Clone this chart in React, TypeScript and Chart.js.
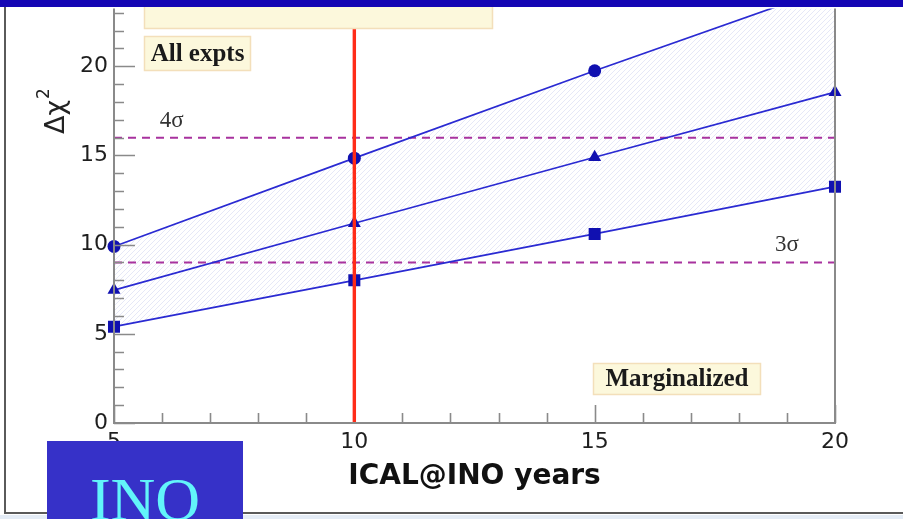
import React, { useEffect, useRef } from 'react';
import { Chart, registerables } from 'chart.js';

Chart.register(...registerables);

// Exposure in years of ICAL@INO running
const years = [5, 10, 15, 20];
// Δχ² sensitivity curves (circles / triangles / squares)
const chiSqUpper = [9.9, 14.85, 19.75, 24.5];
const chiSqMiddle = [7.45, 11.2, 14.9, 18.55];
const chiSqLower = [5.4, 8.0, 10.6, 13.25];
// Significance levels and their labels
const sigmaLevels = [16, 9];
const sigmaLabels = ['4σ', '3σ'];
const sigmaLabelYears = [5.95, 18.75];
// Highlighted exposure
const markerYear = 10;
// Axis ticks and ranges
const xTickValues = [5, 10, 15, 20];
const yTickValues = [0, 5, 10, 15, 20];
const xRange = [5, 20];
const yRange = [0, 23.24];

const LINE_BLUE = '#2a2ad2';
const MARK_BLUE = '#1010b0';
const AXIS_GREY = '#8a8a8a';

function makeHatch(): CanvasPattern | string {
  const c = document.createElement('canvas');
  c.width = 5;
  c.height = 5;
  const g = c.getContext('2d');
  if (!g) return 'rgba(140,150,220,0.08)';
  g.strokeStyle = 'rgba(140,150,220,0.22)';
  g.lineWidth = 1;
  g.beginPath();
  g.moveTo(0, 5);
  g.lineTo(5, 0);
  g.moveTo(-1, 1);
  g.lineTo(1, -1);
  g.moveTo(4, 6);
  g.lineTo(6, 4);
  g.stroke();
  return g.createPattern(c, 'repeat') || 'rgba(140,150,220,0.08)';
}

function noteBox(ctx: CanvasRenderingContext2D, x: number, y: number, w: number, h: number, text: string, baseline: number) {
  ctx.save();
  ctx.fillStyle = '#fcf8dc';
  ctx.fillRect(x, y, w, h);
  ctx.strokeStyle = '#f3dfba';
  ctx.lineWidth = 1.5;
  ctx.strokeRect(x + 0.5, y + 0.5, w - 1, h - 1);
  if (text) {
    ctx.fillStyle = '#1a1a1a';
    ctx.font = 'bold 25px "Liberation Serif", serif';
    ctx.textAlign = 'center';
    ctx.textBaseline = 'alphabetic';
    ctx.fillText(text, x + w / 2, baseline);
  }
  ctx.restore();
}

const decorations = {
  id: 'decorations',
  afterDatasetsDraw(chart: any) {
    const { ctx, chartArea } = chart;
    const { left, right, top, bottom } = chartArea;
    const xs = chart.scales.x;
    const ys = chart.scales.y;
    ctx.save();

    // sigma level captions
    ctx.fillStyle = '#333';
    ctx.font = '23px "Liberation Serif", serif';
    ctx.textAlign = 'left';
    ctx.textBaseline = 'alphabetic';
    sigmaLevels.forEach((lvl, i) => {
      ctx.fillText(sigmaLabels[i], xs.getPixelForValue(sigmaLabelYears[i]), ys.getPixelForValue(lvl) - 11);
    });

    // frame of the plot
    ctx.strokeStyle = AXIS_GREY;
    ctx.lineWidth = 2;
    ctx.beginPath();
    ctx.moveTo(left, top);
    ctx.lineTo(left, bottom);
    ctx.lineTo(right, bottom);
    ctx.lineTo(right, top);
    ctx.stroke();

    // tick marks drawn inward, every unit
    ctx.lineWidth = 1.6;
    ctx.beginPath();
    for (let v = Math.ceil(ys.min); v <= ys.max; v++) {
      const py = Math.round(ys.getPixelForValue(v)) + 0.5;
      const len = v % 5 === 0 ? 21 : 10;
      ctx.moveTo(left, py);
      ctx.lineTo(left + len, py);
    }
    for (let v = Math.ceil(xs.min); v <= xs.max; v++) {
      if (v === markerYear) continue;
      const px = Math.round(xs.getPixelForValue(v)) + 0.5;
      const len = v % 5 === 0 ? 18 : 10;
      ctx.moveTo(px, bottom);
      ctx.lineTo(px, bottom - len);
    }
    ctx.stroke();

    // annotation boxes
    noteBox(ctx, 144, -10, 349, 39, '', 0);
    noteBox(ctx, 144, 36, 107, 35, 'All expts', 61);
    noteBox(ctx, 593, 363, 168, 32, 'Marginalized', 386);
    ctx.restore();
  },
  afterDraw(chart: any) {
    const { ctx, width, height } = chart;
    ctx.save();

    // y axis title
    ctx.fillStyle = '#222';
    ctx.translate(64, 134);
    ctx.rotate(-Math.PI / 2);
    ctx.font = '27px "DejaVu Sans", sans-serif';
    ctx.textAlign = 'left';
    ctx.textBaseline = 'alphabetic';
    ctx.fillText('Δχ', 0, 0);
    const w = ctx.measureText('Δχ').width;
    ctx.font = '17px "DejaVu Sans", sans-serif';
    ctx.fillText('2', w + 1, -15);
    ctx.setTransform(1, 0, 0, 1, 0, 0);

    // page frame
    ctx.strokeStyle = '#5a5a5a';
    ctx.lineWidth = 2;
    ctx.beginPath();
    ctx.moveTo(5, 0);
    ctx.lineTo(5, 513);
    ctx.lineTo(width, 513);
    ctx.stroke();
    ctx.fillStyle = '#e4ecf6';
    ctx.fillRect(0, 515, width, height - 515);

    // title bar strip
    ctx.fillStyle = '#1406b4';
    ctx.fillRect(0, 0, width, 7);

    // INO badge
    ctx.fillStyle = '#3631c8';
    ctx.fillRect(47, 441, 196, height - 441);
    ctx.fillStyle = '#62f4fa';
    ctx.font = '62px "Liberation Serif", serif';
    ctx.textAlign = 'center';
    ctx.textBaseline = 'alphabetic';
    ctx.fillText('INO', 145, 520);
    ctx.restore();
  },
};

export default function App() {
  const canvasRef = useRef<HTMLCanvasElement>(null);

  useEffect(() => {
    const canvas = canvasRef.current;
    if (!canvas) return;
    const hatch = makeHatch();
    const pts = (vals: number[]) => years.map((x, i) => ({ x, y: vals[i] }));
    const edgeClip = { left: 12, right: 12, top: 0, bottom: 12 };

    const curve = (vals: number[], style: string, radius: number, order: number, extra: any = {}) => ({
      data: pts(vals),
      borderColor: LINE_BLUE,
      borderWidth: 1.7,
      pointStyle: style,
      pointRadius: radius,
      pointBackgroundColor: MARK_BLUE,
      pointBorderColor: MARK_BLUE,
      pointBorderWidth: 0,
      tension: 0,
      fill: false,
      clip: edgeClip,
      order,
      ...extra,
    });

    const chart = new Chart(canvas, {
      type: 'line',
      data: {
        datasets: [
          {
            data: [
              { x: markerYear, y: yRange[0] },
              { x: markerYear, y: yRange[1] },
            ],
            borderColor: '#ff2c18',
            borderWidth: 3.4,
            pointRadius: 0,
            fill: false,
            clip: 0,
            order: 0,
          } as any,
          curve(chiSqUpper, 'circle', 6.5, 1, { fill: '+2', backgroundColor: hatch }),
          curve(chiSqMiddle, 'triangle', 7.5, 2),
          curve(chiSqLower, 'rect', 8.5, 3),
          ...sigmaLevels.map((lvl, i) => ({
            data: [
              { x: xRange[0], y: lvl },
              { x: xRange[1], y: lvl },
            ],
            borderColor: '#a8329e',
            borderWidth: 2,
            borderDash: [8, 6],
            pointRadius: 0,
            fill: false,
            clip: 0,
            order: 4 + i,
          })),
        ],
      },
      options: {
        animation: false,
        responsive: false,
        devicePixelRatio: 1,
        layout: { padding: { left: 0, right: 68, top: 7, bottom: 0 } },
        plugins: {
          legend: { display: false },
          tooltip: { enabled: false },
          filler: { drawTime: 'beforeDatasetsDraw' },
        },
        scales: {
          x: {
            type: 'linear',
            min: xRange[0],
            max: xRange[1],
            grid: { display: false, drawTicks: false },
            border: { display: false },
            afterBuildTicks: (s: any) => {
              s.ticks = xTickValues.map((value) => ({ value }));
            },
            afterFit: (s: any) => {
              s.height = 96;
              s.paddingLeft = 0;
              s.paddingRight = 0;
            },
            ticks: {
              autoSkip: false,
              maxRotation: 0,
              padding: 6,
              color: '#1e1e1e',
              font: { family: '"DejaVu Sans", sans-serif', size: 22 },
            },
            title: {
              display: true,
              text: 'ICAL@INO years',
              color: '#111',
              font: { family: '"DejaVu Sans", sans-serif', size: 28, weight: 'bold', lineHeight: 1.2 },
              padding: { top: 0, bottom: 25 },
            },
          },
          y: {
            type: 'linear',
            min: yRange[0],
            max: yRange[1],
            grid: { display: false, drawTicks: false },
            border: { display: false },
            afterBuildTicks: (s: any) => {
              s.ticks = yTickValues.map((value) => ({ value }));
            },
            afterFit: (s: any) => {
              s.width = 114;
              s.paddingTop = 0;
              s.paddingBottom = 0;
            },
            ticks: {
              autoSkip: false,
              padding: 6,
              color: '#1e1e1e',
              font: { family: '"DejaVu Sans", sans-serif', size: 22 },
            },
          },
        },
      } as any,
      plugins: [decorations],
    });

    return () => chart.destroy();
  }, []);

  return (
    <div style={{ position: 'fixed', left: 0, top: 0, width: 903, height: 519, background: '#fff' }}>
      <canvas ref={canvasRef} width={903} height={519} style={{ display: 'block', width: 903, height: 519 }} />
    </div>
  );
}
